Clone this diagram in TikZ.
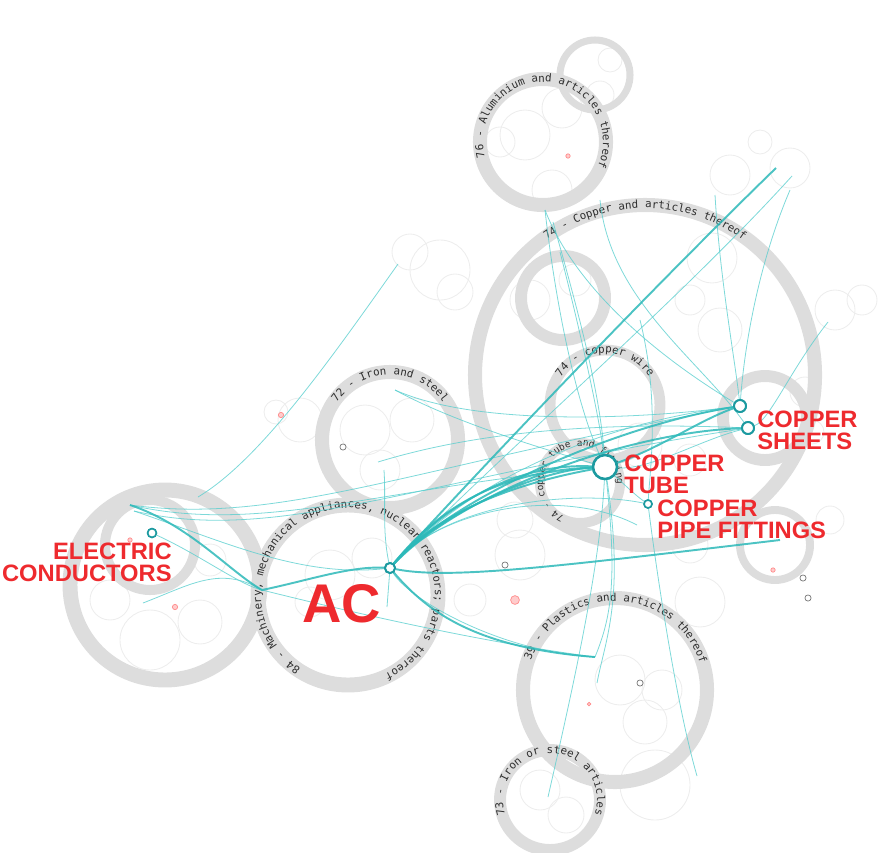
\documentclass[tikz,border=0pt]{standalone}
\usepackage{fontspec}
\setmainfont{Liberation Sans}
\setmonofont{DejaVu Sans Mono}
\usetikzlibrary{decorations.text}

\definecolor{ringgray}{HTML}{DDDDDD}
\definecolor{ringtext}{HTML}{2E2E2E}
\definecolor{flowcyan}{HTML}{5CCFCF}
\definecolor{flowteal}{HTML}{2DB9B9}
\definecolor{hubteal}{HTML}{1C9AA0}
\definecolor{labelred}{HTML}{EE2A2E}

\tikzset{
  ring/.style={draw=ringgray, line width=#1},
  faint/.style={draw=black!7, line width=.5pt},
  flow/.style={draw=flowcyan, line width=.45pt, opacity=.8},
  flowthick/.style={draw=flowteal, line width=1.1pt, opacity=.85},
  hub/.style={circle, draw=hubteal, fill=white, line width=1.1pt,
    inner sep=0pt, minimum size=#1},
  prodlabel/.style={text=labelred, inner sep=0pt,
    font=\bfseries\fontsize{13.5}{12.4}\selectfont},
  reddot/.style={circle, draw=red!45, fill=red!20, inner sep=0pt, minimum size=#1},
  darkdot/.style={circle, draw=black!55, line width=.4pt, inner sep=0pt, minimum size=3.5pt}
}

\newcommand\ringfont{\ttfamily\fontsize{6.2}{6.2}\selectfont}
\newcommand\smallringfont{\ttfamily\fontsize{5.4}{5.4}\selectfont}
% title bent round a ring: centre, radius, start angle, end angle, text
\newcommand\ringtitle[5]{%
  \path[decorate, decoration={text along path, text align=center,
    text color=ringtext, text={|\ringfont|#5}}]
    (#1) ++(#3:#2) arc[start angle=#3, end angle=#4, radius=#2];}

\begin{document}
\begin{tikzpicture}[x=0.02cm, y=-0.02cm]
  \useasboundingbox (0,0) rectangle (891,852);

  % ring centres
  \coordinate (c74) at (645,375);
  \coordinate (c74a) at (563,298);
  \coordinate (c74w) at (605,405);
  \coordinate (c74t) at (580,483);
  \coordinate (c74s) at (765,418);
  \coordinate (c76) at (543,142);
  \coordinate (ctop) at (595,75);
  \coordinate (c72) at (390,440);
  \coordinate (c84) at (348,595);
  \coordinate (cel) at (165,585);
  \coordinate (celi) at (150,545);
  \coordinate (c39) at (615,690);
  \coordinate (c73) at (550,800);
  \coordinate (cright) at (775,545);

  % small sub-groups inside the rings
  \foreach \x/\y/\r in {440/270/30, 410/252/18, 455/292/18, 300/420/22, 276/412/12,
      525/135/25, 562/108/20, 500/142/15, 552/190/20, 730/175/20, 790/168/20,
      760/142/12, 835/310/20, 862/300/15, 712/258/25, 330/575/25, 372/558/20,
      310/602/15, 620/680/25, 662/690/20, 645/722/22, 700/602/25, 520/555/25,
      515/520/18, 150/640/30, 200/622/22, 365/430/25, 412/420/22, 380/470/20,
      540/790/20, 566/815/18, 805/392/15, 812/432/12, 655/785/35, 690/545/18,
      600/95/14, 610/60/12, 720/330/22, 690/300/15, 530/300/20, 575/280/16,
      640/445/22, 690/460/16, 110/600/20, 210/560/16, 470/600/16, 830/520/14}
    \draw[faint] (\x,\y) circle[radius=\r];

  % rings
  \draw[ring=8pt] (c74) circle[radius=170];
  \draw[ring=6.8pt] (c74a) circle[radius=42];
  \draw[ring=6.2pt] (c74w) circle[radius=55];
  \draw[ring=5.7pt] (c74t) circle[radius=40];
  \draw[ring=6.8pt] (c74s) circle[radius=42];
  \draw[ring=8pt] (c76) circle[radius=63];
  \draw[ring=4pt] (ctop) circle[radius=35];
  \draw[ring=8pt] (c72) circle[radius=68];
  \draw[ring=8.5pt] (c84) circle[radius=90];
  \draw[ring=8.5pt] (cel) circle[radius=95];
  \draw[ring=5.7pt] (celi) circle[radius=45];
  \draw[ring=8pt] (c39) circle[radius=92];
  \draw[ring=6.8pt] (c73) circle[radius=50];
  \draw[ring=4.5pt] (cright) circle[radius=35];

  % ring titles
  \ringtitle{c74}{167}{215}{325}{74 - Copper and articles thereof}
  \ringtitle{c76}{60}{165}{385}{76 - Aluminium and articles thereof}
  \ringtitle{c72}{65}{195}{345}{72 - Iron and steel}
  \ringtitle{c84}{87}{112}{436}{84 - Machinery, mechanical appliances, nuclear reactors; parts thereof}
  \ringtitle{c39}{89}{180}{362}{39 - Plastics and articles thereof}
  \ringtitle{c73}{47}{160}{380}{73 - Iron or steel articles}
  \ringtitle{c74w}{52}{190}{350}{74 - copper wire}
  \path[decorate, decoration={text along path, text align=center,
    text color=ringtext, text={|\smallringfont|74 - copper tube and fittings}}]
    (c74t) ++(122:37) arc[start angle=122, end angle=364, radius=37];

  % red and grey markers
  \foreach \x/\y/\s in {281/415/3pt, 175/607/3pt, 130/540/2.5pt, 515/600/5pt,
      568/156/2.5pt, 773/570/2.5pt, 589/704/2pt}
    \node[reddot=\s] at (\x,\y) {};
  \foreach \x/\y in {343/447, 505/565, 640/683, 808/598, 803/578}
    \node[darkdot] at (\x,\y) {};

  % product nodes
  \node (ac) [hub=5.7pt] at (390,568) {};
  \node (tube) [hub=13.6pt, line width=1.4pt] at (605,467) {};
  \node (sheetA) [hub=6.8pt] at (740,406) {};
  \node (sheetB) [hub=6.8pt] at (748,428) {};
  \node (fit) [hub=4.5pt, line width=.9pt] at (648,504) {};
  \node (cond) [hub=5pt, line width=.9pt] at (152,533) {};

  % loose ends of the flows
  \coordinate (tr1) at (776,168);
  \coordinate (tr2) at (792,176);
  \coordinate (al1) at (545,210);
  \coordinate (al2) at (553,222);
  \coordinate (al3) at (600,200);
  \coordinate (cw1) at (560,252);
  \coordinate (cw2) at (640,320);
  \coordinate (lt1) at (130,505);
  \coordinate (lt2) at (134,511);
  \coordinate (lb) at (143,603);
  \coordinate (kink) at (262,590);
  \coordinate (lr) at (198,497);
  \coordinate (ir1) at (398,264);
  \coordinate (ir2) at (395,390);
  \coordinate (ir3) at (384,470);
  \coordinate (ir4) at (378,462);
  \coordinate (rt) at (780,540);
  \coordinate (pl1) at (595,657);
  \coordinate (pl2) at (597,683);
  \coordinate (pl3) at (697,776);
  \coordinate (ist) at (548,797);
  \coordinate (sr1) at (790,190);
  \coordinate (sr2) at (715,195);
  \coordinate (sr3) at (828,322);
  \coordinate (acd) at (387,607);
  \coordinate (fd) at (637,525);

  % thin flows
  \draw[flow] (ac) .. controls (440,510) and (560,485) .. (fd);
  \draw[flow] (ac) .. controls (450,500) and (580,490) .. (fit);
  \draw[flow] (ac) .. controls (500,455) and (680,300) .. (tr2);
  \draw[flow] (ac) .. controls (480,470) and (620,420) .. (sheetA);
  \draw[flow] (ac) .. controls (410,600) and (500,652) .. (pl1);
  \draw[flow] (ac) -- (acd);
  \draw[flow] (ac) .. controls (382,530) and (386,500) .. (ir3);
  \draw[flow] (lt2) .. controls (220,540) and (300,578) .. (ac);
  \draw[flow] (cond) .. controls (200,555) and (240,585) .. (kink);
  \draw[flow] (lb) .. controls (190,585) and (220,565) .. (kink);
  \draw[flow] (lt1) .. controls (260,535) and (380,488) .. (tube);
  \draw[flow] (lt2) .. controls (280,545) and (420,478) .. (sheetB);
  \draw[flow] (lt1) .. controls (280,525) and (400,470) .. (sheetA);
  \draw[flow] (kink) .. controls (350,612) and (480,642) .. (pl1);
  \draw[flow] (ir1) .. controls (330,360) and (260,460) .. (lr);
  \draw[flow] (ir2) .. controls (450,420) and (530,445) .. (tube);
  \draw[flow] (ir2) .. controls (480,428) and (650,418) .. (sheetA);
  \draw[flow] (ir4) .. controls (450,440) and (560,420) .. (sheetB);
  \draw[flow] (al1) .. controls (555,300) and (575,400) .. (tube);
  \draw[flow] (al2) .. controls (575,300) and (600,390) .. (tube);
  \draw[flow] (al1) .. controls (580,300) and (680,370) .. (sheetA);
  \draw[flow] (al3) .. controls (610,300) and (700,360) .. (sheetB);
  \draw[flow] (cw1) .. controls (580,330) and (600,420) .. (tube);
  \draw[flow] (cw2) .. controls (660,400) and (650,470) .. (fit);
  \draw[flow] (sr1) .. controls (760,260) and (745,340) .. (sheetA);
  \draw[flow] (sr2) .. controls (720,280) and (735,360) .. (sheetA);
  \draw[flow] (sr3) .. controls (790,370) and (770,420) .. (sheetB);
  \draw[flow] (tube) .. controls (650,470) and (700,440) .. (sheetB);
  \draw[flow] (tube) .. controls (625,485) and (635,495) .. (fit);
  \draw[flow] (pl1) .. controls (610,620) and (618,585) .. (tube);
  \draw[flow] (pl2) .. controls (605,640) and (625,600) .. (tube);
  \draw[flow] (ist) .. controls (570,700) and (600,570) .. (tube);
  \draw[flow] (pl3) .. controls (675,700) and (655,560) .. (fit);

  % heavy flows
  \draw[flowthick] (ac) .. controls (425,525) and (480,472) .. (tube);
  \draw[flowthick] (ac) .. controls (432,518) and (505,462) .. (tube);
  \draw[flowthick] (ac) .. controls (418,535) and (470,492) .. (tube);
  \draw[flowthick] (ac) .. controls (440,512) and (540,470) .. (tube);
  \draw[flowthick] (ac) .. controls (470,480) and (640,300) .. (tr1);
  \draw[flowthick] (ac) .. controls (465,490) and (630,432) .. (sheetB);
  \draw[flowthick] (ac) .. controls (455,495) and (620,425) .. (sheetA);
  \draw[flowthick] (ac) .. controls (450,580) and (560,566) .. (rt);
  \draw[flowthick] (ac) .. controls (430,615) and (480,648) .. (pl1);
  \draw[flowthick] (tube) .. controls (660,448) and (700,420) .. (sheetA);
  \draw[flowthick] (lt1) .. controls (190,525) and (230,572) .. (kink)
    .. controls (310,580) and (350,566) .. (ac);

  % nodes again, on top of the flows
  \node [hub=5.7pt] at (ac) {};
  \node [hub=13.6pt, line width=1.4pt] at (tube) {};
  \node [hub=6.8pt] at (sheetA) {};
  \node [hub=6.8pt] at (sheetB) {};
  \node [hub=4.5pt, line width=.9pt] at (fit) {};
  \node [hub=5pt, line width=.9pt] at (cond) {};

  % labels
  \node (tubelbl) [prodlabel, anchor=north west, align=left] at (624,455) {COPPER\\TUBE};
  \node (sheetlbl) [prodlabel, anchor=north west, align=left] at (757,411) {COPPER\\SHEETS};
  \node (fitlbl) [prodlabel, anchor=north west, align=left] at (657,500) {COPPER\\PIPE FITTINGS};
  \node (condlbl) [prodlabel, anchor=north east, align=right] at (172,543) {ELECTRIC\\CONDUCTORS};
  \node (aclbl) [text=labelred, font=\bfseries\fontsize{31}{31}\selectfont, inner sep=0pt] at (342,604) {AC};
\end{tikzpicture}
\end{document}
